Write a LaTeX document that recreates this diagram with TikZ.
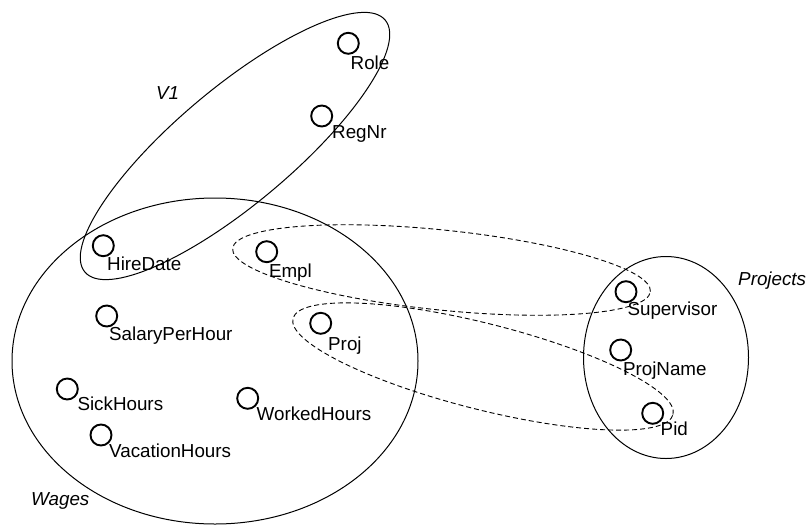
\documentclass[tikz,border=0pt]{standalone}
\usepackage{fontspec}
\setmainfont{Liberation Sans}
\begin{document}
\begin{tikzpicture}[x=1pt, y=-1pt,
  attr/.style={draw, circle, line width=1.9pt, minimum size=21pt, inner sep=0pt},
  lbl/.style={anchor=base west, inner sep=0pt, font=\fontsize{18.8}{22}\selectfont},
  setname/.style={anchor=base west, inner sep=0pt, font=\fontsize{18.8}{22}\selectfont\itshape},
  setline/.style={line width=1pt},
  joinline/.style={line width=0.9pt, dash pattern=on 5pt off 3pt}]
\useasboundingbox (0,0) rectangle (810,525);

% attribute sets
\draw[setline] (215,361) ellipse [x radius=203pt, y radius=163pt];
\draw[setline] (666,357.5) ellipse [x radius=82.5pt, y radius=101pt];
\draw[setline, rotate around={40:(235,146)}] (235,146) ellipse [x radius=196pt, y radius=58pt];

% join links
\draw[joinline, rotate around={-5.9:(441.5,270)}] (441.5,270) ellipse [x radius=210pt, y radius=40pt];
\draw[joinline, rotate around={-14.2:(483,366.5)}] (483,366.5) ellipse [x radius=196pt, y radius=43pt];

% attributes
\node[attr] (role) at (348.3,43.3) {};
\node[lbl] (roleL) at (350.5,69) {Role};
\node[attr] (regnr) at (321.7,116) {};
\node[lbl] (regnrL) at (332,138.3) {RegNr};
\node[attr] (hire) at (103.3,245.7) {};
\node[lbl] (hireL) at (107,270.7) {HireDate};
\node[attr] (empl) at (266.7,251.7) {};
\node[lbl] (emplL) at (268.8,277.7) {Empl};
\node[attr] (salary) at (106.7,316) {};
\node[lbl] (salaryL) at (109,340) {SalaryPerHour};
\node[attr] (proj) at (320.7,323.3) {};
\node[lbl] (projL) at (328,350) {Proj};
\node[attr] (sick) at (67.3,389) {};
\node[lbl] (sickL) at (77.3,410) {SickHours};
\node[attr] (vac) at (101,435) {};
\node[lbl] (vacL) at (109,457.7) {VacationHours};
\node[attr] (worked) at (247.7,398.3) {};
\node[lbl] (workedL) at (256.5,420) {WorkedHours};
\node[attr] (sup) at (626,291.7) {};
\node[lbl] (supL) at (627.3,315) {Supervisor};
\node[attr] (pname) at (620.7,350) {};
\node[lbl] (pnameL) at (622.8,375) {ProjName};
\node[attr] (pid) at (652.7,413.3) {};
\node[lbl] (pidL) at (660.5,435) {Pid};

% set names
\node[setname] (v1) at (156,99) {V1};
\node[setname] (wages) at (31,505) {Wages};
\node[setname] (projects) at (738,285) {Projects};
\end{tikzpicture}
\end{document}
